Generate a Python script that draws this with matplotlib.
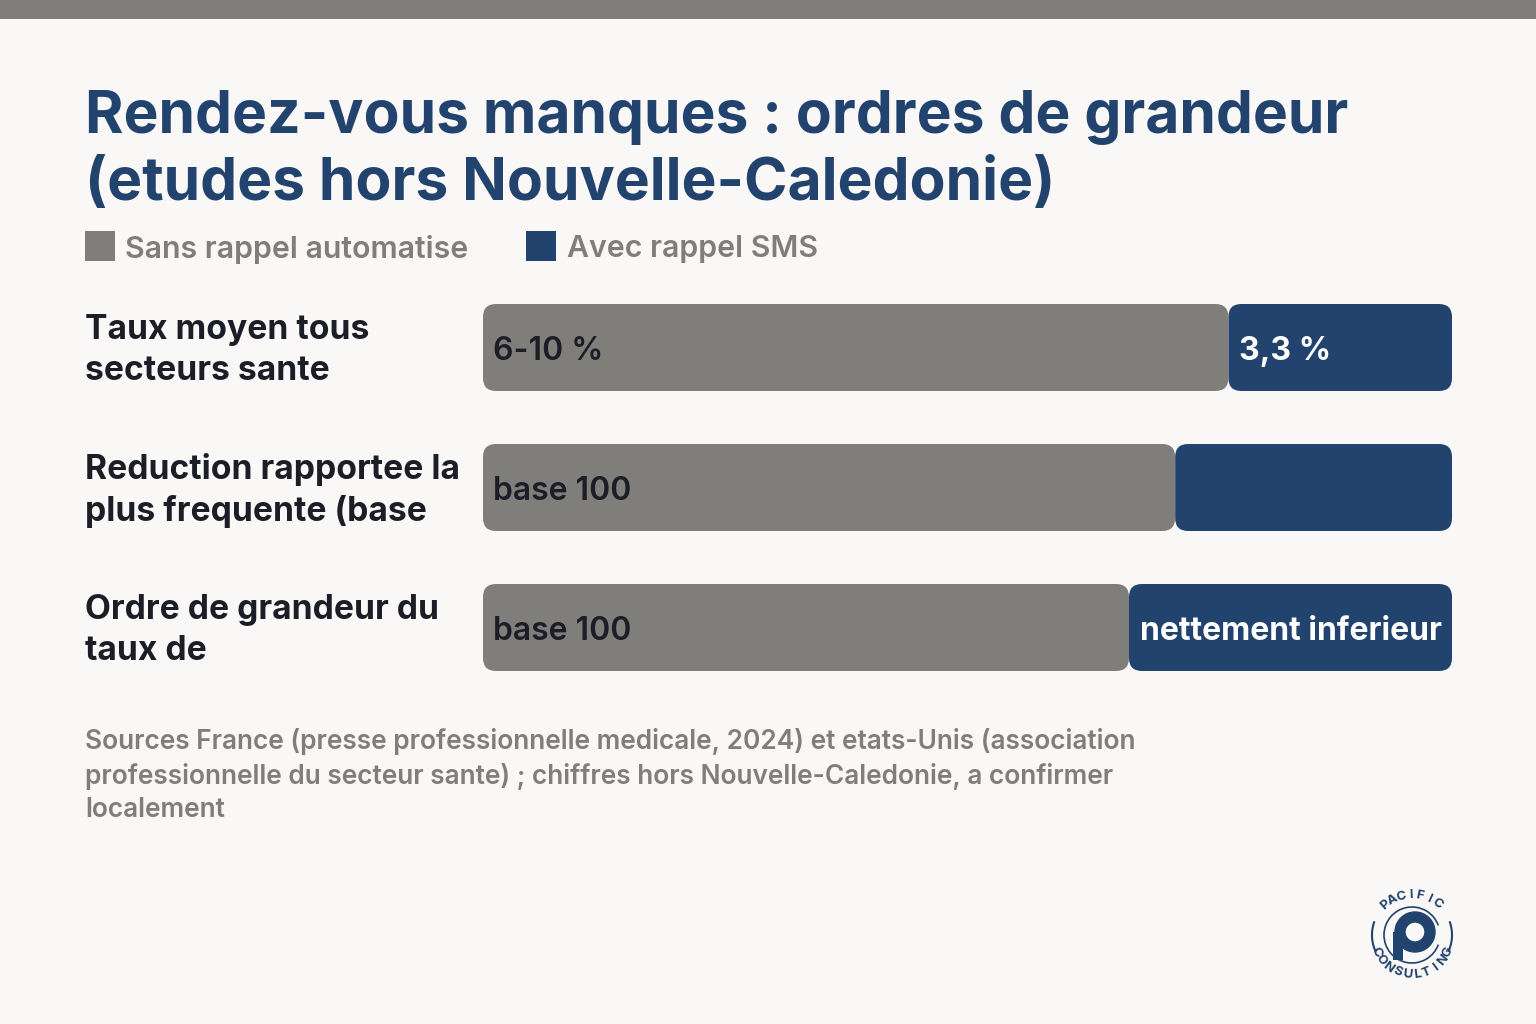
import numpy as np
import matplotlib.pyplot as plt
from matplotlib.patches import FancyBboxPatch, Rectangle, Wedge, Arc

# ---- donnees ----
categories = ["Taux moyen tous\nsecteurs sante",
              "Reduction rapportee la\nplus frequente (base",
              "Ordre de grandeur du\ntaux de"]
sans_rappel = [10, 100, 100]
avec_sms = [3, 40, 50]
labels_sans = ["6-10 %", "base 100", "base 100"]
labels_sms = ["3,3 %", "", "nettement inferieur"]
legend_labels = ["Sans rappel automatise", "Avec rappel SMS"]

title_lines = ["Rendez-vous manques : ordres de grandeur",
               "(etudes hors Nouvelle-Caledonie)"]
source = ("Sources France (presse professionnelle medicale, 2024) et etats-Unis (association\n"
          "professionnelle du secteur sante) ; chiffres hors Nouvelle-Caledonie, a confirmer\n"
          "localement")

GRAY = "#7f7e7b"
BLUE = "#23436f"
BG = "#f9f8f6"
DARK = "#1b1d27"

plt.rcParams['font.family'] = ['Inter', 'DejaVu Sans']

fig = plt.figure(figsize=(15.36, 10.24), dpi=100, facecolor=BG)
ax = fig.add_axes([0, 0, 1, 1])
ax.set_xlim(0, 1536)
ax.set_ylim(1024, 0)
ax.axis("off")

# bande du haut
ax.add_patch(Rectangle((0, 0), 1536, 19, color=GRAY, lw=0))

# titre
for k, line in enumerate(title_lines):
    ax.text(85, 133 + 67 * k, line, fontsize=42.3, fontweight="bold", color=BLUE,
            va="baseline", ha="left")

# legende
ax.add_patch(Rectangle((85, 231), 30, 30, color=GRAY, lw=0))
ax.text(125, 249, legend_labels[0], fontsize=21.8, fontweight="semibold",
        color=GRAY, va="center", ha="left")
ax.add_patch(Rectangle((526, 231), 30, 30, color=BLUE, lw=0))
ax.text(567, 249, legend_labels[1], fontsize=21.8, fontweight="semibold",
        color=GRAY, va="center", ha="left")

# barres empilees (en proportion)
x0, x1 = 483, 1452
bar_h = 87
tops = [304, 444, 584]
r = 13
for i in range(len(categories)):
    tot = sans_rappel[i] + avec_sms[i]
    wg = (x1 - x0) * sans_rappel[i] / tot
    wb = (x1 - x0) * avec_sms[i] / tot
    y = tops[i]
    ax.add_patch(FancyBboxPatch((x0 + wg + r, y + r), wb - 2 * r, bar_h - 2 * r,
                                boxstyle="round,pad=%d" % r, fc=BLUE, ec="none"))
    ax.add_patch(FancyBboxPatch((x0 + r, y + r), wg - 2 * r, bar_h - 2 * r,
                                boxstyle="round,pad=%d" % r, fc=GRAY, ec="none"))
    yc = y + bar_h / 2
    ax.text(x0 + 10, yc + 4, labels_sans[i], fontsize=23, fontweight="semibold",
            color=DARK, va="center", ha="left")
    if labels_sms[i]:
        ax.text(x0 + wg + 11, yc + 4, labels_sms[i], fontsize=23, fontweight="bold",
                color="white", va="center", ha="left")
    ax.text(85, yc + 3, categories[i], fontsize=24.2, fontweight="bold", color=DARK,
            va="center", ha="left", linespacing=1.33)

# source
ax.text(85, 728, source, fontsize=18.9, fontweight="semibold", color=GRAY,
        va="top", ha="left", linespacing=1.36)

# logo
cx, cy = 1412, 935
ax.add_patch(Arc((cx, cy), 80, 80, theta1=155, theta2=200, color=BLUE, lw=1.5))
ax.add_patch(Arc((cx, cy), 80, 80, theta1=-20, theta2=25, color=BLUE, lw=1.5))
ax.add_patch(Arc((cx, cy), 56, 56, theta1=20, theta2=340, color=BLUE, lw=1.2))
ax.add_patch(Wedge((cx + 3, cy - 3), 20, 0, 360, width=10, color=BLUE))
ax.add_patch(Rectangle((cx - 19, cy - 3), 10, 28, color=BLUE, lw=0))
for txt, a0, a1, top in [("PACIFIC", 132, 52, True), ("CONSULTING", 205, 335, False)]:
    angs = np.linspace(a0, a1, len(txt))
    for ch, a in zip(txt, angs):
        rr = 40
        px = cx + rr * np.cos(np.radians(a))
        py = cy - rr * np.sin(np.radians(a))
        rot = a - 90 if top else a + 90
        ax.text(px, py, ch, fontsize=9.5, fontweight="bold", color=BLUE,
                rotation=rot, ha="center", va="center", rotation_mode="anchor")

fig.savefig("out.png", dpi=100, facecolor=BG)
